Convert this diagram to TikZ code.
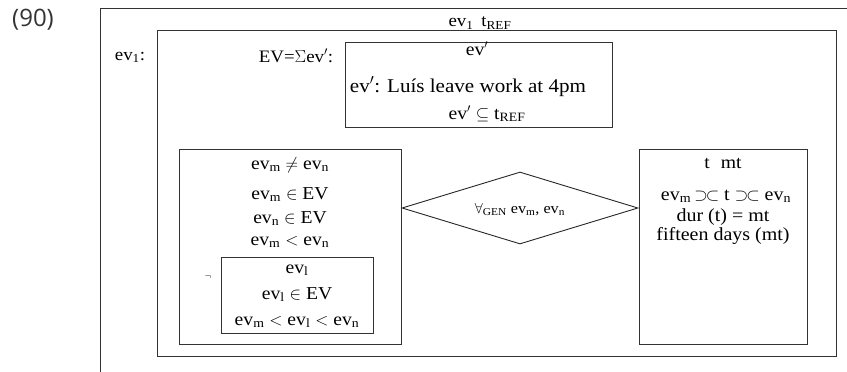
\documentclass[tikz,border=0pt]{standalone}
\usepackage{fontspec}
\setmainfont{Liberation Serif}[FakeStretch=1.08]
\newfontfamily\numfont{Open Sans}
\usetikzlibrary{shapes.geometric}
\newcommand{\sbs}[1]{\textsubscript{#1}}
\newcommand{\sqz}{$\supset\mkern-2mu\subset$}
\begin{document}
\begin{tikzpicture}[x=1pt,y=-1pt,
  box/.style={draw=black!80, line width=0.9pt, inner sep=0pt, anchor=north west},
  txt/.style={anchor=base, inner sep=0pt, font=\fontsize{18.2}{21}\selectfont},
  small/.style={anchor=base, inner sep=0pt, font=\fontsize{15}{17}\selectfont},
]
\useasboundingbox (0,0) rectangle (847,372);
% boxes
\node[box, minimum width=800pt, minimum height=420pt] (outer) at (100,8) {};
\node[box, minimum width=679pt, minimum height=326pt] (evonebox) at (157,30) {};
\node[box, minimum width=267pt, minimum height=85pt] (evpbox) at (345,42) {};
\node[box, minimum width=222pt, minimum height=195pt] (leftbox) at (179,149) {};
\node[box, minimum width=152pt, minimum height=76pt] (innerbox) at (221,257) {};
\node[box, minimum width=168pt, minimum height=195pt] (rightbox) at (639,149) {};
\node[draw=black!85, line width=0.9pt, diamond, inner sep=0pt, minimum width=236pt, minimum height=72pt] (dia) at (520,208) {};
% labels
\node[anchor=center, inner sep=0pt, font=\numfont\fontsize{24}{28}\selectfont, text=black!80] (num) at (33,20) {(90)};
\node[txt, font=\fontsize{17.5}{20}\selectfont] (t1) at (480,27) {ev\sbs{1}\hspace{0.45em}t\sbs{REF}};
\node[txt, font=\fontsize{17.5}{20}\selectfont] (t2) at (130,60) {ev\sbs{1}:};
\node[txt, font=\fontsize{17.5}{20}\selectfont] (t3) at (296,62) {EV=$\Sigma$ev$'$:};
\node[txt] (p1) at (477,55) {ev$'$};
\node[txt, font=\fontsize{19.5}{22}\selectfont] (p2) at (468,92) {ev$'$: Luís leave work at 4pm};
\node[txt] (p3) at (487,119) {ev$'$ $\subseteq$ t\sbs{REF}};
\node[txt] (l1) at (290,169) {ev\sbs{m} $\neq$ ev\sbs{n}};
\node[txt] (l2) at (290,199) {ev\sbs{m} $\in$ EV};
\node[txt] (l3) at (290,223) {ev\sbs{n} $\in$ EV};
\node[txt] (l4) at (290,245) {ev\sbs{m} $<$ ev\sbs{n}};
\node[anchor=center, inner sep=0pt, font=\fontsize{10}{12}\selectfont] (neg) at (208,277) {$\neg$};
\node[txt] (i1) at (297,273) {ev\sbs{l}};
\node[txt] (i2) at (297,299) {ev\sbs{l} $\in$ EV};
\node[txt] (i3) at (297,325) {ev\sbs{m} $<$ ev\sbs{l} $<$ ev\sbs{n}};
\node[small] (d1) at (520,213) {$\forall$\sbs{GEN} ev\sbs{m}, ev\sbs{n}};
\node[txt] (r1) at (723,168) {t\hspace{0.6em}mt};
\node[txt, font=\fontsize{18.5}{21}\selectfont] (r2) at (726,200) {ev\sbs{m}\,\sqz\ t \sqz\ ev\sbs{n}};
\node[txt, font=\fontsize{18.5}{21}\selectfont] (r3) at (723,221) {dur (t) = mt};
\node[txt, font=\fontsize{18.5}{21}\selectfont] (r4) at (723,240) {fifteen days (mt)};
\end{tikzpicture}
\end{document}
